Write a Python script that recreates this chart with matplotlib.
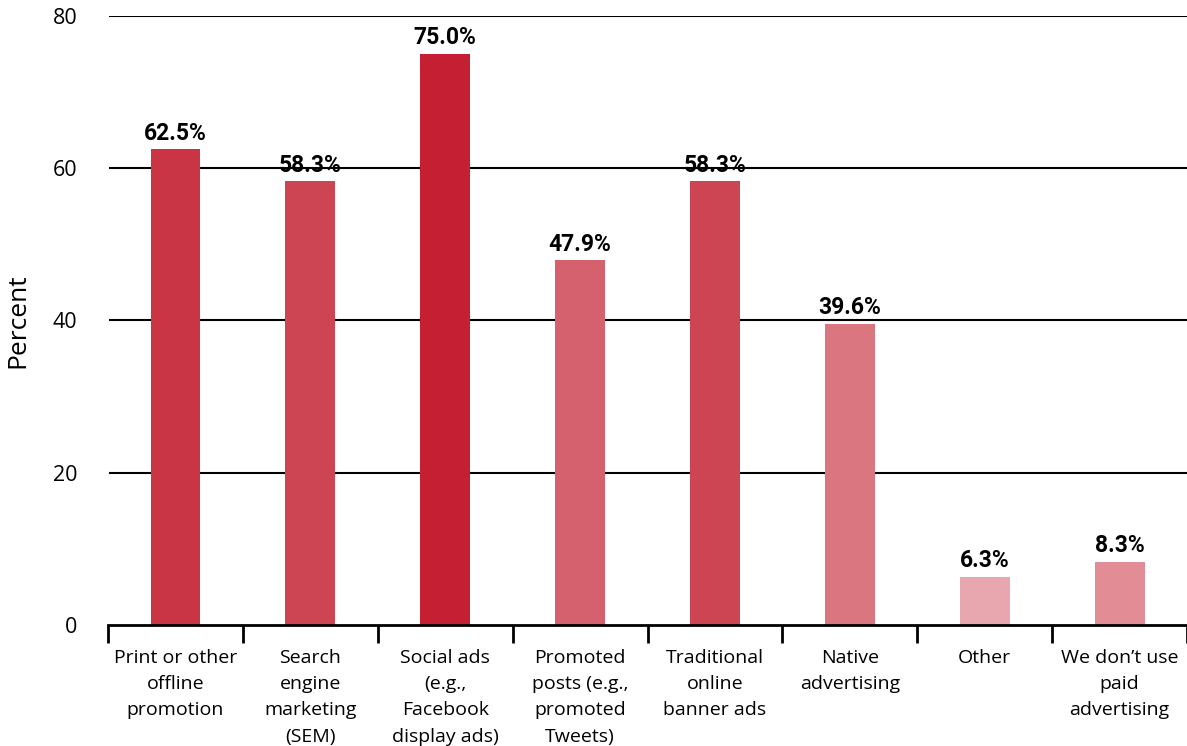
import matplotlib
matplotlib.use("Agg")
import matplotlib.pyplot as plt
import numpy as np

categories = [
    "Print or other\noffline\npromotion",
    "Search\nengine\nmarketing\n(SEM)",
    "Social ads\n(e.g.,\nFacebook\ndisplay ads)",
    "Promoted\nposts (e.g.,\npromoted\nTweets)",
    "Traditional\nonline\nbanner ads",
    "Native\nadvertising",
    "Other",
    "We don\u2019t use\npaid\nadvertising",
]
values = [62.5, 58.3, 75.0, 47.9, 58.3, 39.6, 6.3, 8.3]
y_ticks = [0, 20, 40, 60, 80]

bar_colors = ["#C93545", "#CD4453", "#C41F32", "#D5606E",
              "#CD4453", "#D9767F", "#E8A7AE", "#E28C96"]

fig = plt.figure(figsize=(11.87, 7.46), dpi=100)
ax = fig.add_axes([0.091, 0.1622, 0.909, 0.8164])

x = np.arange(len(values))
ax.bar(x, values, width=0.37, color=bar_colors, zorder=3)

ax.set_xlim(-0.5, len(values) - 0.5)
ax.set_ylim(0, 80)

for y in y_ticks[1:]:
    ax.axhline(y, color="black", lw=1.5, zorder=1, xmin=0.002)

ax.set_yticks(y_ticks)
ax.tick_params(axis="y", length=0, pad=22, labelsize=15.5)
for lbl in ax.get_yticklabels():
    lbl.set_fontfamily("Open Sans")

ax.set_xticks(np.arange(len(values) + 1) - 0.5)
ax.set_xticklabels([])
ax.tick_params(axis="x", which="major", direction="out", length=13, width=2, color="black")
ax.set_xticks(x, minor=True)
ax.set_xticklabels(categories, minor=True, fontsize=14, family="Open Sans", linespacing=1.6, va="top")
ax.tick_params(axis="x", which="minor", length=0, pad=17)

for side in ("top", "right", "left"):
    ax.spines[side].set_visible(False)
ax.spines["bottom"].set_linewidth(2)
ax.spines["bottom"].set_zorder(4)

ax.set_ylabel("Percent", fontsize=19, family="Open Sans", labelpad=16)

for xi, v in zip(x, values):
    ax.text(xi, v + 0.6, f"{v:.1f}%", ha="center", va="bottom",
            fontsize=16.5, fontweight="bold", family="Roboto", zorder=5)

fig.savefig("out.png", dpi=100)
